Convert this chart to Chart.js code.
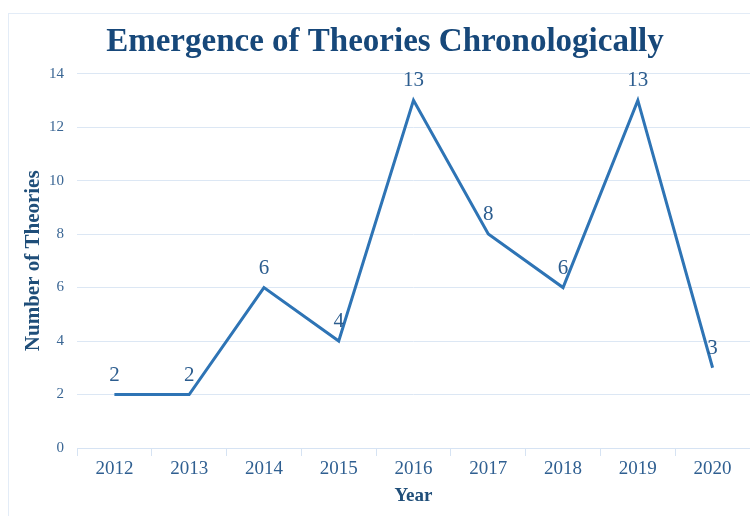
<!DOCTYPE html>
<html>
<head>
<meta charset="utf-8">
<script src="https://cdn.jsdelivr.net/npm/chart.js"></script>
<style>
  body { margin: 0; background: #fff; }
  #wrap { position: relative; width: 750px; height: 516px; }
  #frame { position: absolute; left: 8px; top: 13px; right: -2px; bottom: -2px; border-left: 1px solid #e3ecf7; border-top: 1px solid #e3ecf7; }
  canvas { position: absolute; left: 0; top: 0; }
</style>
</head>
<body>
<div id="wrap">
  <div id="frame"></div>
  <canvas id="chart" width="750" height="516"></canvas>
</div>
<script>
const years = ["2012", "2013", "2014", "2015", "2016", "2017", "2018", "2019", "2020"];
const theories = [2, 2, 6, 4, 13, 8, 6, 13, 3];

const serif = "'Liberation Serif', 'DejaVu Serif', serif";

// etiquetas com os valores acima de cada ponto
const valueLabels = {
    id: "valueLabels",
    afterDatasetsDraw(chart) {
        const ctx = chart.ctx;
        const meta = chart.getDatasetMeta(0);
        ctx.save();
        ctx.font = "21px " + serif;
        ctx.fillStyle = "#2c5d8f";
        ctx.textAlign = "center";
        ctx.textBaseline = "alphabetic";
        meta.data.forEach(function (pt, i) {
            ctx.fillText(String(theories[i]), pt.x, pt.y - 14);
        });
        ctx.restore();
    }
};

new Chart(document.getElementById("chart"), {
    type: "line",
    data: {
        labels: years,
        datasets: [
            {
                label: "Theories",
                data: theories,
                borderColor: "#2e74b5",
                borderWidth: 3,
                pointRadius: 0,
                tension: 0,
                fill: false,
            },
        ],
    },
    options: {
        responsive: false,
        animation: false,
        // padding esquerda para centrar o titulo como no original
        layout: { padding: { left: 20, right: 0, top: 0, bottom: 0 } },
        plugins: {
            legend: { display: false },
            tooltip: { enabled: false },
            title: {
                display: true,
                text: "Emergence of Theories Chronologically",
                color: "#17487a",
                font: { family: serif, size: 33, weight: "bold" },
                padding: { top: 23, bottom: 11 },
            },
        },
        scales: {
            x: {
                offset: true,
                grid: {
                    offset: true,
                    drawOnChartArea: false,
                    drawTicks: true,
                    tickLength: 8,
                    color: "#d6e3f3",
                },
                border: { display: true, color: "#d6e3f3", width: 1 },
                ticks: {
                    color: "#2f5f91",
                    font: { family: serif, size: 19 },
                    padding: 2,
                    maxRotation: 0,
                },
                title: {
                    display: true,
                    text: "Year",
                    color: "#1f4e79",
                    font: { family: serif, size: 19, weight: "bold" },
                    padding: { top: 0, bottom: 9 },
                },
                afterFit: function (scale) {
                    scale.height = 68;
                },
            },
            y: {
                min: 0,
                max: 14,
                ticks: {
                    stepSize: 2,
                    color: "#3a6694",
                    font: { family: serif, size: 15 },
                    padding: 13,
                },
                grid: { color: "#dce7f4", drawTicks: false },
                border: { display: false },
                title: {
                    display: true,
                    text: "Number of Theories",
                    color: "#1f4e79",
                    font: { family: serif, size: 21, weight: "bold" },
                    padding: { top: 1, bottom: 0 },
                },
                afterFit: function (scale) {
                    scale.width = 57;
                },
            },
        },
    },
    plugins: [valueLabels],
});
</script>
</body>
</html>
